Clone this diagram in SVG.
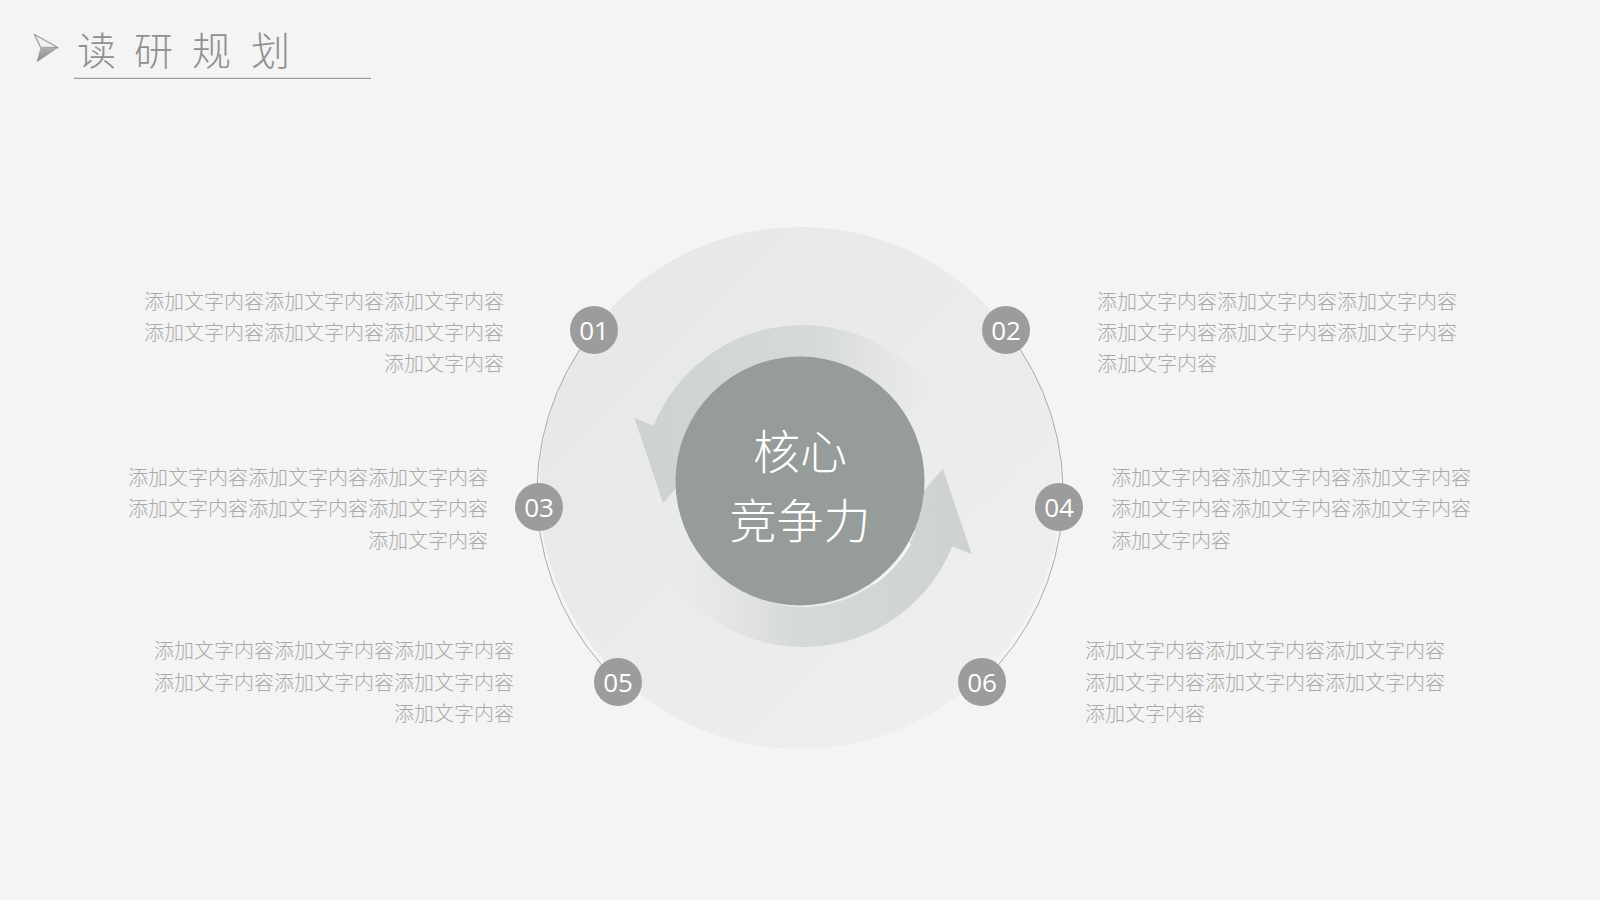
<svg xmlns="http://www.w3.org/2000/svg" width="1600" height="900" viewBox="0 0 1600 900">
  <defs>
    <style>
      .desc { font-family: "Noto Sans CJK SC", "Noto Sans", sans-serif; font-size: 20px; font-weight: 300; fill: #a9a9a9; }
      .badge circle { fill: #9c9c9c; }
      .badge text { font-family: "Open Sans", "Liberation Sans", sans-serif; font-size: 26px; fill: #ffffff; text-anchor: middle; }
      .ring { fill: none; stroke: #a9acab; stroke-width: 1; }
      .core { font-family: "Noto Sans CJK SC", sans-serif; font-size: 47px; font-weight: 300; fill: #ffffff; text-anchor: middle; }
    </style>
    <linearGradient id="discGrad" x1="0" y1="0" x2="1" y2="1">
      <stop offset="0" stop-color="#e5e7e6"/>
      <stop offset="1" stop-color="#eff0ef"/>
    </linearGradient>
    <linearGradient id="arrowTop" gradientUnits="userSpaceOnUse" x1="635" y1="0" x2="945" y2="0">
      <stop offset="0" stop-color="#cdd1cf"/>
      <stop offset="0.6" stop-color="#d6dad8"/>
      <stop offset="1" stop-color="#e4e6e5" stop-opacity="0"/>
    </linearGradient>
    <linearGradient id="arrowBottom" gradientUnits="userSpaceOnUse" x1="972" y1="0" x2="664" y2="0">
      <stop offset="0" stop-color="#cdd1cf"/>
      <stop offset="0.6" stop-color="#d6dad8"/>
      <stop offset="1" stop-color="#e4e6e5" stop-opacity="0"/>
    </linearGradient>
    <linearGradient id="iconGrad" x1="0" y1="0" x2="0" y2="1">
      <stop offset="0" stop-color="#b0b0b0"/>
      <stop offset="1" stop-color="#8a8a8a"/>
    </linearGradient>
  </defs>

  <rect width="1600" height="900" fill="#f4f4f4"/>

  <!-- title -->
  <g id="title">
    <polygon points="34.5,34.5 58.3,47.7 40.5,47.2" fill="#f2f2f2" stroke="#9a9a9a" stroke-width="1.2" stroke-linejoin="round"/>
    <polygon points="40.5,47.2 58.3,47.7 36.7,62.3" fill="url(#iconGrad)"/>
    <text x="77 114 134 172 192 231 251" y="65" font-family="Noto Sans CJK SC, sans-serif" font-size="39" font-weight="300" fill="#909090">读 研 规 划</text>
    <line x1="74" y1="78.3" x2="371" y2="78.3" stroke="#9c9c9c" stroke-width="1.2"/>
  </g>

  <!-- background disc -->
  <g id="disc">
    <circle cx="800" cy="488" r="261" fill="url(#discGrad)"/>
  </g>

  <!-- connectors: outline arcs joining the badges -->
  <g id="connectors">
    <path class="ring" d="M 594 330 A 261 261 0 0 0 618 682"/>
    <path class="ring" d="M 1006 330 A 261 261 0 0 1 982 682"/>
  </g>

  <!-- cycle arrows -->
  <g id="cycle-arrows">
    <path d="M 934.9 393.7 A 161 161 0 0 0 653.7 425.7 L 634.3 417.8 L 663.1 503.2 L 710.3 448.5 L 690.8 440.7 A 121 121 0 0 1 902.1 416.6 Z" fill="url(#arrowTop)"/>
    <path d="M 671.1 578.3 A 161 161 0 0 0 952.3 546.3 L 971.7 554.2 L 942.9 468.8 L 895.7 523.5 L 915.2 531.3 A 121 121 0 0 1 703.9 555.4 Z" fill="url(#arrowBottom)"/>
  </g>

  <!-- center node -->
  <g id="node-core">
    <path d="M 909.6 544.3 A 126.5 126.5 0 0 1 874.4 583.3" fill="none" stroke="#f3f4f3" stroke-width="2.5" stroke-linecap="round"/>
    <circle cx="800" cy="481" r="124.5" fill="#969c99"/>
    <text class="core" x="800" y="469">核心</text>
    <text class="core" x="800" y="538">竞争力</text>
  </g>

  <!-- badge nodes with descriptions -->
  <g id="node-01">
    <g class="badge"><circle cx="594" cy="330" r="24"/><text x="594" y="339.5">01</text></g>
    <text class="desc" text-anchor="end" x="504" y="309">添加文字内容添加文字内容添加文字内容</text>
    <text class="desc" text-anchor="end" x="504" y="340">添加文字内容添加文字内容添加文字内容</text>
    <text class="desc" text-anchor="end" x="504" y="371">添加文字内容</text>
  </g>
  <g id="node-02">
    <g class="badge"><circle cx="1006" cy="330" r="24"/><text x="1006" y="339.5">02</text></g>
    <text class="desc" x="1097" y="309">添加文字内容添加文字内容添加文字内容</text>
    <text class="desc" x="1097" y="340">添加文字内容添加文字内容添加文字内容</text>
    <text class="desc" x="1097" y="371">添加文字内容</text>
  </g>
  <g id="node-03">
    <g class="badge"><circle cx="539" cy="507" r="24"/><text x="539" y="516.5">03</text></g>
    <text class="desc" text-anchor="end" x="488" y="485">添加文字内容添加文字内容添加文字内容</text>
    <text class="desc" text-anchor="end" x="488" y="516">添加文字内容添加文字内容添加文字内容</text>
    <text class="desc" text-anchor="end" x="488" y="548">添加文字内容</text>
  </g>
  <g id="node-04">
    <g class="badge"><circle cx="1059" cy="507" r="24"/><text x="1059" y="516.5">04</text></g>
    <text class="desc" x="1111" y="485">添加文字内容添加文字内容添加文字内容</text>
    <text class="desc" x="1111" y="516">添加文字内容添加文字内容添加文字内容</text>
    <text class="desc" x="1111" y="548">添加文字内容</text>
  </g>
  <g id="node-05">
    <g class="badge"><circle cx="618" cy="682" r="24"/><text x="618" y="691.5">05</text></g>
    <text class="desc" text-anchor="end" x="514" y="658">添加文字内容添加文字内容添加文字内容</text>
    <text class="desc" text-anchor="end" x="514" y="690">添加文字内容添加文字内容添加文字内容</text>
    <text class="desc" text-anchor="end" x="514" y="721">添加文字内容</text>
  </g>
  <g id="node-06">
    <g class="badge"><circle cx="982" cy="682" r="24"/><text x="982" y="691.5">06</text></g>
    <text class="desc" x="1085" y="658">添加文字内容添加文字内容添加文字内容</text>
    <text class="desc" x="1085" y="690">添加文字内容添加文字内容添加文字内容</text>
    <text class="desc" x="1085" y="721">添加文字内容</text>
  </g>
</svg>
